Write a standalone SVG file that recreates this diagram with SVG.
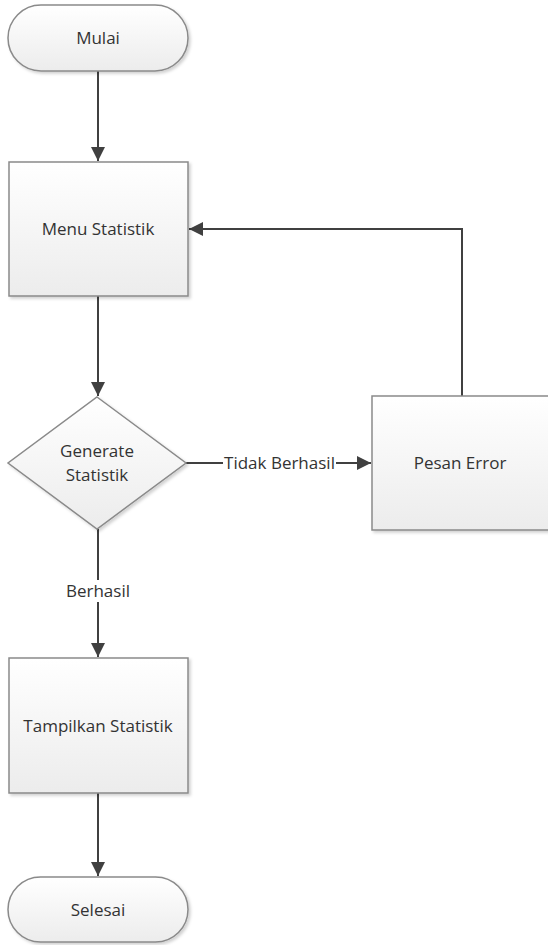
<svg xmlns="http://www.w3.org/2000/svg" width="548" height="945" viewBox="0 0 548 945">
  <defs>
    <linearGradient id="shapeFill" x1="0" y1="0" x2="0" y2="1">
      <stop offset="0" stop-color="#ffffff"/>
      <stop offset="1" stop-color="#ececec"/>
    </linearGradient>
    <filter id="shadow" x="-10%" y="-10%" width="125%" height="125%">
      <feDropShadow dx="2" dy="2" stdDeviation="1.5" flood-color="#000" flood-opacity="0.18"/>
    </filter>
    <marker id="head" viewBox="0 0 14 14" refX="14" refY="7" markerWidth="14" markerHeight="14" markerUnits="userSpaceOnUse" orient="auto">
      <path d="M0,0 L14,7 L0,14 Z" fill="#404040"/>
    </marker>
  </defs>
  <style>
    .shape { fill: url(#shapeFill); stroke: #8a8a8a; stroke-width: 1.5; filter: url(#shadow); }
    .label { font-family: "Open Sans", "Liberation Sans", sans-serif; font-size: 17px; fill: #333333; text-anchor: middle; }
    .edge { fill: none; stroke: #404040; stroke-width: 2; }
  </style>
  <rect width="548" height="945" fill="#ffffff"/>

  <!-- connectors -->
  <g id="connectors">
    <line class="edge" x1="98" y1="71" x2="98" y2="161" marker-end="url(#head)"/>
    <line class="edge" x1="98" y1="296" x2="98" y2="396" marker-end="url(#head)"/>
    <line class="edge" x1="186" y1="463" x2="371" y2="463" marker-end="url(#head)"/>
    <polyline class="edge" points="462,396 462,229 189,229" marker-end="url(#head)"/>
    <line class="edge" x1="98" y1="529" x2="98" y2="657" marker-end="url(#head)"/>
    <line class="edge" x1="98" y1="793" x2="98" y2="876" marker-end="url(#head)"/>
    <rect x="223" y="452" width="113" height="22" fill="#ffffff"/>
    <text class="label" x="279.5" y="469">Tidak Berhasil</text>
    <rect x="64" y="580" width="68" height="22" fill="#ffffff"/>
    <text class="label" x="98" y="597">Berhasil</text>
  </g>

  <g id="mulai">
    <rect class="shape" x="8" y="5" width="180" height="66" rx="33" ry="33"/>
    <text class="label" x="98" y="44">Mulai</text>
  </g>

  <g id="menu-statistik">
    <rect class="shape" x="9" y="162" width="179" height="134"/>
    <text class="label" x="98" y="235">Menu Statistik</text>
  </g>

  <g id="generate-statistik">
    <polygon class="shape" points="97,397 186,463 97,529 8,463"/>
    <text class="label" x="97" y="457">Generate</text>
    <text class="label" x="97" y="481">Statistik</text>
  </g>

  <g id="pesan-error">
    <rect class="shape" x="372" y="396" width="178" height="134"/>
    <text class="label" x="460" y="469">Pesan Error</text>
  </g>

  <g id="tampilkan-statistik">
    <rect class="shape" x="9" y="658" width="179" height="135"/>
    <text class="label" x="98" y="732">Tampilkan Statistik</text>
  </g>

  <g id="selesai">
    <rect class="shape" x="8" y="877" width="180" height="65" rx="32.5" ry="32.5"/>
    <text class="label" x="98" y="916">Selesai</text>
  </g>
</svg>
